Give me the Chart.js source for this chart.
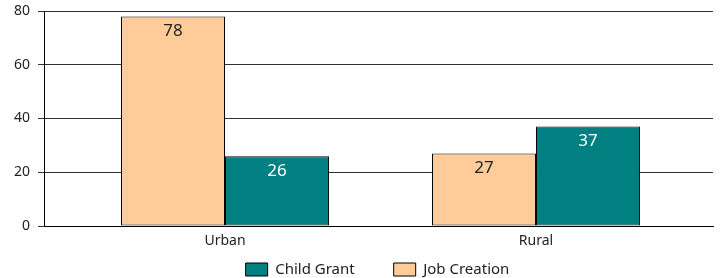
<!DOCTYPE html>
<html>
<head>
<meta charset="utf-8">
<script src="https://cdn.jsdelivr.net/npm/chart.js@4/dist/chart.umd.min.js"></script>
<style>
  html, body { margin: 0; padding: 0; background: #fff; }
  #wrap { width: 720px; height: 278px; }
</style>
</head>
<body>
<div id="wrap"><canvas id="regionChart"></canvas></div>
<script>
const categories = ['Urban', 'Rural'];
const jobCreation = [78, 27];
const childGrant = [26, 37];
const yTicks = [0, 20, 40, 60, 80];

const font = 'Noto Sans';

// values written inside the top of each bar
const barLabels = {
    id: 'barLabels',
    afterDatasetsDraw: (chart) => {
        const ctx = chart.ctx;
        ctx.save();
        ctx.font = '17px "' + font + '"';
        ctx.textAlign = 'center';
        ctx.textBaseline = 'middle';
        chart.data.datasets.forEach((ds, i) => {
            chart.getDatasetMeta(i).data.forEach((bar, j) => {
                ctx.fillStyle = ds.labelColor;
                ctx.fillText(ds.data[j].y, bar.x, bar.y + 15);
            });
        });
        ctx.restore();
    }
};

// legend items are drawn at top + padding, so open the box upward
const legendShift = {
    id: 'legendShift',
    afterLayout: (chart) => {
        const lg = chart.legend;
        lg.left += 21;
        lg.right += 21;
        lg.top = 223;
        lg.bottom = 278;
    }
};

const toPoints = (arr) => arr.map((v, i) => ({ x: i + 1, y: v }));

new Chart(document.getElementById('regionChart').getContext('2d'), {
    type: 'bar',
    data: {
        datasets: [{
            label: 'Job Creation',
            data: toPoints(jobCreation),
            backgroundColor: '#FFCC99',
            borderColor: '#000',
            borderWidth: 1,
            borderSkipped: false,
            labelColor: '#222',
            barPercentage: 1,
            categoryPercentage: 0.669
        }, {
            label: 'Child Grant',
            data: toPoints(childGrant),
            backgroundColor: '#008080',
            borderColor: '#000',
            borderWidth: 1,
            borderSkipped: false,
            labelColor: '#fff',
            barPercentage: 1,
            categoryPercentage: 0.669
        }]
    },
    options: {
        responsive: true,
        maintainAspectRatio: false,
        animation: false,
        layout: {
            padding: { left: 0, right: 7, top: 11, bottom: 0 }
        },
        scales: {
            x: {
                type: 'linear',
                offset: false,
                min: 0.418,
                max: 2.569,
                afterBuildTicks: (scale) => {
                    scale.ticks = categories.map((c, i) => ({ value: i + 1 }));
                },
                afterFit: (scale) => { scale.height = 21; },
                grid: { display: false, drawTicks: false },
                border: { display: true, color: '#000', width: 1 },
                ticks: {
                    color: '#222',
                    font: { family: font, size: 14 },
                    padding: 7,
                    callback: (value) => categories[value - 1]
                }
            },
            y: {
                min: 0,
                max: 80,
                afterBuildTicks: (scale) => {
                    scale.ticks = yTicks.map(v => ({ value: v }));
                },
                afterFit: (scale) => {
                    scale.width = 44;
                    scale.paddingTop = 0;
                    scale.paddingBottom = 0;
                },
                grid: {
                    color: '#333',
                    lineWidth: 1,
                    tickLength: 6,
                    tickColor: '#333'
                },
                border: { display: true, color: '#000', width: 1 },
                ticks: {
                    color: '#222',
                    font: { family: font, size: 14 },
                    padding: 8
                }
            }
        },
        plugins: {
            legend: {
                position: 'bottom',
                reverse: true,
                maxHeight: 31,
                labels: {
                    boxWidth: 22,
                    boxHeight: 13,
                    padding: 39,
                    color: '#222',
                    font: { family: font, size: 15 }
                }
            },
            tooltip: { enabled: false }
        }
    },
    plugins: [barLabels, legendShift]
});
</script>
</body>
</html>
